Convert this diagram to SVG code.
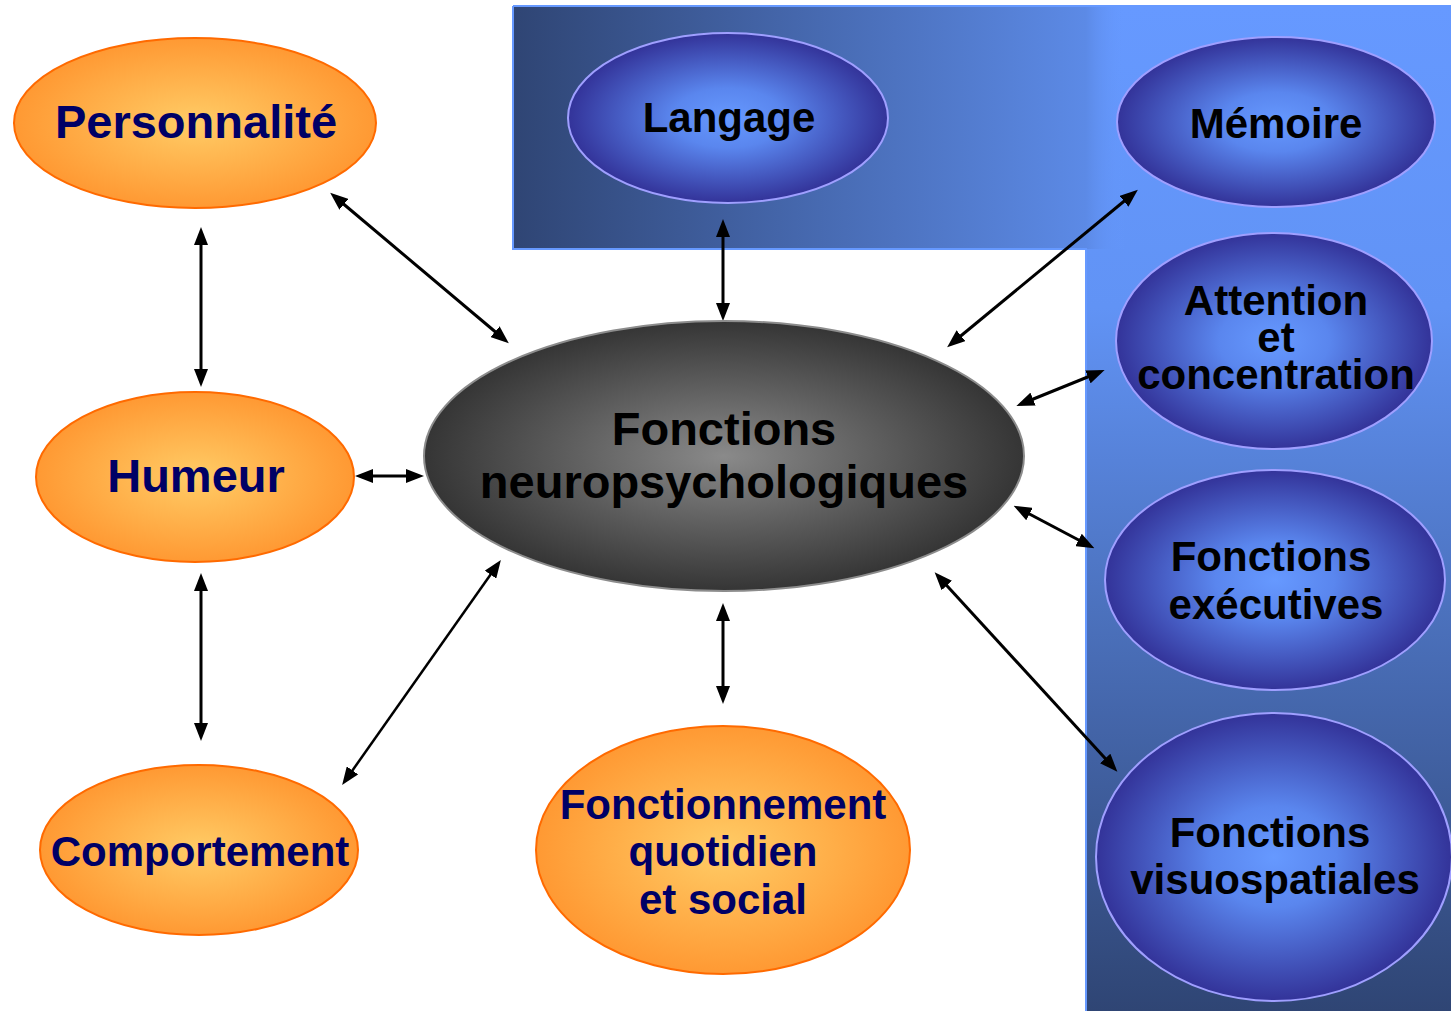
<svg xmlns="http://www.w3.org/2000/svg" width="1451" height="1011" viewBox="0 0 1451 1011">
<style>
text{font-family:"Liberation Sans",Arial,sans-serif;font-weight:bold;text-anchor:middle}
.or{fill:url(#gOr);stroke:#ff6a00;stroke-width:2}
.bl{fill:url(#gBl);stroke:#9f9fff;stroke-width:2}
.ctr{fill:url(#gGr);stroke:#8c8c8c;stroke-width:2}
.to{fill:#000066}
.tb{fill:#000}
.c{stroke:#000;stroke-width:3;fill:none;marker-start:url(#ah);marker-end:url(#ah)}
</style>
<defs>
<radialGradient id="gOr" cx="50%" cy="50%" r="50%"><stop offset="0" stop-color="#ffcc66"/><stop offset="1" stop-color="#ff9933"/></radialGradient>
<radialGradient id="gBl" cx="50%" cy="50%" r="50%"><stop offset="0" stop-color="#6699ff"/><stop offset="0.35" stop-color="#5a86ee"/><stop offset="1" stop-color="#333399"/></radialGradient>
<radialGradient id="gGr" cx="50%" cy="50%" r="50%"><stop offset="0" stop-color="#8a8a8a"/><stop offset="1" stop-color="#353535"/></radialGradient>
<linearGradient id="gTop" x1="0" y1="0" x2="1" y2="0"><stop offset="0" stop-color="#2f4574"/><stop offset="1" stop-color="#5c8ae6"/></linearGradient>
<linearGradient id="gRight" x1="0" y1="0" x2="0" y2="1"><stop offset="0" stop-color="#6699ff"/><stop offset="0.3" stop-color="#6193f5"/><stop offset="1" stop-color="#2f4574"/></linearGradient>
<linearGradient id="gBlend" x1="0" y1="0" x2="1" y2="0"><stop offset="0" stop-color="#5c8ae6"/><stop offset="1" stop-color="#6699ff" stop-opacity="0"/></linearGradient>
<marker id="ah" viewBox="0 0 18 14" refX="13" refY="7" markerWidth="18" markerHeight="14" markerUnits="userSpaceOnUse" orient="auto-start-reverse"><path d="M0,0 L18,7 L0,14 Z" fill="#000"/></marker>
</defs>
<rect width="1451" height="1011" fill="#fff"/>
<g id="background">
<rect x="513" y="6" width="573" height="244" fill="url(#gTop)"/>
<rect x="1086" y="6" width="365" height="1005" fill="url(#gRight)"/>
<rect x="1086" y="6" width="40" height="243" fill="url(#gBlend)"/>
<path d="M513,6 H1451 M513,6 V249 H1086 V1011" fill="none" stroke="#6699ff" stroke-width="2"/>
</g>
<g id="connectors">
<line class="c" x1="334" y1="196" x2="505" y2="340"/>
<line class="c" x1="201" y1="232" x2="201" y2="382"/>
<line class="c" x1="360" y1="476" x2="419" y2="476"/>
<line class="c" x1="201" y1="578" x2="201" y2="736"/>
<line class="c" x1="345" y1="781" x2="498" y2="564" style="stroke-width:2.5"/>
<line class="c" x1="723" y1="224" x2="723" y2="316"/>
<line class="c" x1="723" y1="608" x2="723" y2="699"/>
<line class="c" x1="1134" y1="193" x2="951" y2="344"/>
<line class="c" x1="1100" y1="372" x2="1021" y2="404"/>
<line class="c" x1="1090" y1="546" x2="1018" y2="508"/>
<line class="c" x1="1114" y1="768" x2="938" y2="576"/>
</g>
<g id="n-personnalite"><ellipse class="or" cx="195" cy="123" rx="181" ry="85"/><text class="to" x="196" y="138" font-size="47">Personnalité</text></g>
<g id="n-humeur"><ellipse class="or" cx="195" cy="477" rx="159" ry="85"/><text class="to" x="196" y="492" font-size="47">Humeur</text></g>
<g id="n-comportement"><ellipse class="or" cx="199" cy="850" rx="159" ry="85"/><text class="to" x="200" y="866" font-size="42">Comportement</text></g>
<g id="n-fonctionnement"><ellipse class="or" cx="723" cy="850" rx="187" ry="124"/><text class="to" font-size="42"><tspan x="723" y="819">Fonctionnement</tspan><tspan x="723" y="866">quotidien</tspan><tspan x="723" y="914">et social</tspan></text></g>
<g id="n-central"><ellipse class="ctr" cx="724" cy="456" rx="300" ry="135"/><text class="tb" font-size="47"><tspan x="724" y="445">Fonctions</tspan><tspan x="724" y="498">neuropsychologiques</tspan></text></g>
<g id="n-langage"><ellipse class="bl" cx="728" cy="118" rx="160" ry="85"/><text class="tb" x="729" y="132" font-size="42">Langage</text></g>
<g id="n-memoire"><ellipse class="bl" cx="1276" cy="122" rx="159" ry="85"/><text class="tb" x="1276" y="138" font-size="42">Mémoire</text></g>
<g id="n-attention"><ellipse class="bl" cx="1274" cy="341" rx="158" ry="108"/><text class="tb" font-size="42"><tspan x="1276" y="315">Attention</tspan><tspan x="1276" y="352">et</tspan><tspan x="1276" y="389">concentration</tspan></text></g>
<g id="n-executives"><ellipse class="bl" cx="1275" cy="580" rx="170" ry="110"/><text class="tb" font-size="42"><tspan x="1271" y="571">Fonctions</tspan><tspan x="1276" y="619">exécutives</tspan></text></g>
<g id="n-visuospatiales"><ellipse class="bl" cx="1274" cy="857" rx="178" ry="144"/><text class="tb" font-size="42"><tspan x="1270" y="847">Fonctions</tspan><tspan x="1275" y="894">visuospatiales</tspan></text></g>
</svg>
